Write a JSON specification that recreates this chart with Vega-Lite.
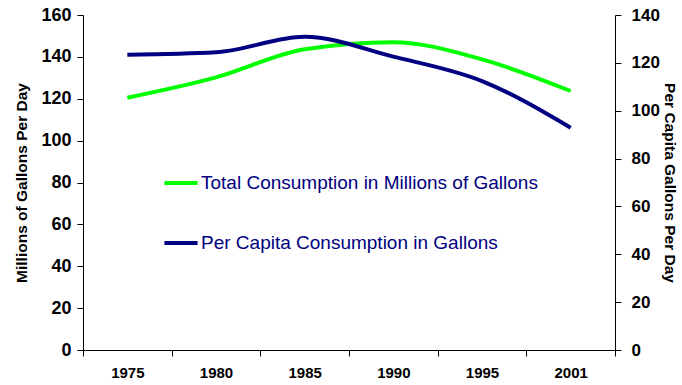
{
  "$schema": "https://vega.github.io/schema/vega-lite/v6.json",
  "width": 532,
  "height": 335,
  "autosize": {"type": "none"},
  "padding": {"left": 83, "top": 15, "right": 67, "bottom": 35},
  "background": "white",
  "config": {
    "view": {"stroke": null},
    "font": "Liberation Sans",
    "axis": {"grid": false, "domainColor": "black", "tickColor": "black", "labelColor": "black", "titleColor": "black", "labelFont": "Liberation Sans", "titleFont": "Liberation Sans", "labelFontWeight": "bold", "titleFontWeight": "bold", "domainWidth": 1, "tickWidth": 1}
  },
  "data": {
    "values": [
      {"year": "1975", "series": "Total Consumption in Millions of Gallons", "value": 120.5},
      {"year": "1980", "series": "Total Consumption in Millions of Gallons", "value": 130.2},
      {"year": "1985", "series": "Total Consumption in Millions of Gallons", "value": 143.6},
      {"year": "1990", "series": "Total Consumption in Millions of Gallons", "value": 147},
      {"year": "1995", "series": "Total Consumption in Millions of Gallons", "value": 138.8},
      {"year": "2001", "series": "Total Consumption in Millions of Gallons", "value": 123.7},
      {"year": "1975", "series": "Per Capita Consumption in Gallons", "value": 123.4},
      {"year": "1980", "series": "Per Capita Consumption in Gallons", "value": 124.4},
      {"year": "1985", "series": "Per Capita Consumption in Gallons", "value": 130.9},
      {"year": "1990", "series": "Per Capita Consumption in Gallons", "value": 122.6},
      {"year": "1995", "series": "Per Capita Consumption in Gallons", "value": 112.4},
      {"year": "2001", "series": "Per Capita Consumption in Gallons", "value": 92.9}
    ]
  },
  "encoding": {
    "x": {
      "field": "year", "type": "ordinal",
      "scale": {"type": "band", "paddingInner": 0, "paddingOuter": 0},
      "axis": {"title": null, "labelAngle": 0, "labelFontSize": 15, "tickBand": "extent", "tickSize": 6, "labelPadding": 9}
    },
    "color": {
      "field": "series", "type": "nominal",
      "scale": {"domain": ["Total Consumption in Millions of Gallons", "Per Capita Consumption in Gallons"], "range": ["#00FF00", "#000080"]},
      "legend": {
        "title": null, "orient": "none", "legendX": 79, "legendY": 149,
        "symbolType": "stroke", "symbolStrokeWidth": 4, "symbolSize": 1100,
        "labelFontSize": 19, "labelColor": "#000080", "labelFont": "Liberation Sans",
        "labelLimit": 0, "rowPadding": 31, "labelOffset": 1
      }
    }
  },
  "layer": [
    {
      "transform": [{"filter": "datum.series === 'Total Consumption in Millions of Gallons'"}],
      "mark": {"type": "line", "strokeWidth": 4, "interpolate": "monotone"},
      "encoding": {
        "y": {
          "field": "value", "type": "quantitative",
          "scale": {"domain": [0, 160], "nice": false},
          "axis": {"title": "Millions of Gallons Per Day", "values": [0, 20, 40, 60, 80, 100, 120, 140, 160], "labelFontSize": 18, "titleFontSize": 15.5, "tickSize": 6, "labelPadding": 6, "titlePadding": 11}
        }
      }
    },
    {
      "transform": [{"filter": "datum.series === 'Per Capita Consumption in Gallons'"}],
      "mark": {"type": "line", "strokeWidth": 4, "interpolate": "monotone"},
      "encoding": {
        "y": {
          "field": "value", "type": "quantitative",
          "scale": {"domain": [0, 140], "nice": false},
          "axis": {"title": "Per Capita Gallons Per Day", "orient": "right", "values": [0, 20, 40, 60, 80, 100, 120, 140], "labelFontSize": 17, "titleFontSize": 15.5, "tickSize": 6, "labelPadding": 10, "titlePadding": 2}
        }
      }
    }
  ],
  "resolve": {"scale": {"y": "independent"}}
}
